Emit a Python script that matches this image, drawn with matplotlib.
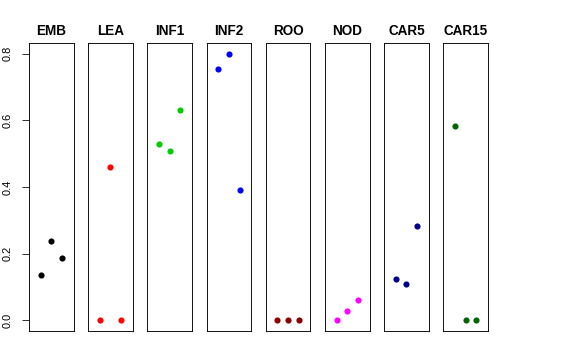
import matplotlib
matplotlib.use("Agg")
import matplotlib.pyplot as plt

plt.rcParams['font.family'] = ['Liberation Sans', 'DejaVu Sans']

# one panel per tissue, three replicates each
tissues = ["EMB", "LEA", "INF1", "INF2", "ROO", "NOD", "CAR5", "CAR15"]
colors = ["black", "red", "#00CD00", "blue", "#8B0000", "magenta", "#00008B", "#006400"]
values = [
    [0.136, 0.238, 0.188],
    [0.0, 0.460, 0.0],
    [0.528, 0.507, 0.632],
    [0.754, 0.800, 0.391],
    [0.0, 0.0, 0.0],
    [0.0, 0.027, 0.061],
    [0.123, 0.109, 0.282],
    [0.582, 0.0, 0.0],
]
yticks = [0.0, 0.2, 0.4, 0.6, 0.8]

W, H = 576, 360
fig = plt.figure(figsize=(W / 72, H / 72), dpi=72)

left0 = 29.0      # px, left edge of first panel
step = 59.2       # px between panel left edges
pw = 44.5         # panel width px
top, bottom = 43.0, 331.0

for i, (name, col, vals) in enumerate(zip(tissues, colors, values)):
    ax = fig.add_axes([(left0 + i * step) / W, (H - bottom) / H,
                       pw / W, (bottom - top) / H])
    x = list(range(1, len(vals) + 1))
    ax.scatter(x, vals, color=col, s=38, linewidths=0, zorder=3)
    ax.set_xlim(-0.08, 4.08)
    ax.set_ylim(-0.032, 0.832)
    ax.set_xticks([])
    for sp in ax.spines.values():
        sp.set_linewidth(0.9)
        sp.set_color("black")
    ax.set_title(name, fontsize=13.5, fontweight="bold", pad=8)
    if i == 0:
        ax.set_yticks(yticks)
        ax.set_yticklabels([f"{v:.1f}" for v in yticks], rotation=90,
                           va="center", fontsize=11)
        ax.tick_params(axis="y", length=7, width=0.8, pad=9)
    else:
        ax.set_yticks([])

fig.savefig("out.png", dpi=72)
